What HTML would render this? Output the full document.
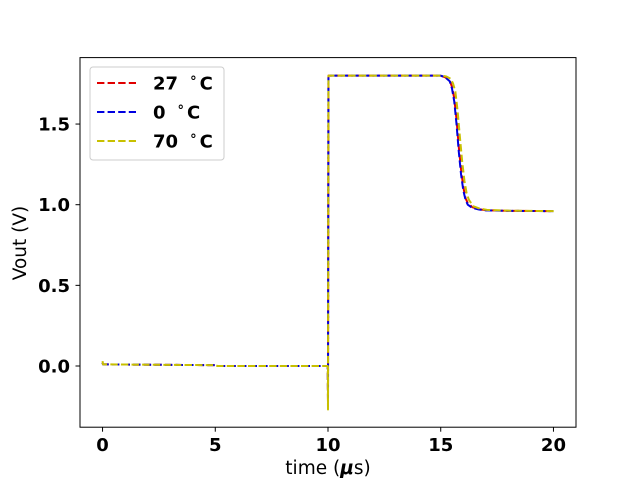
<!DOCTYPE html>
<html><head><meta charset="utf-8"><style>
body{margin:0;background:#fff}
svg text{font-family:"DejaVu Sans","Liberation Sans",sans-serif}
</style></head><body>
<svg id="chart" width="640" height="480" xmlns="http://www.w3.org/2000/svg">
<rect width="640" height="480" fill="#fff"/>
<g id="lines"></g>
<rect x="80" y="57.6" width="496" height="369.6" fill="none" stroke="#000" stroke-width="1"/>
<g id="ticks"></g>
<text x="328" y="474" font-size="18.5" text-anchor="middle">time (<tspan font-weight="bold" font-style="italic">μ</tspan>s)</text>
<text transform="translate(26,243) rotate(-90)" font-size="18.5" text-anchor="middle">Vout (V)</text>
<g>
<rect x="90" y="67" width="134" height="93" rx="3" fill="#fff" stroke="#ccc"/>
<g id="legend-items"></g>
</g>
</svg>
<script>
const tickX=[0,5,10,15,20];
const tickY=[0,0.5,1.0,1.5];
const tickYLabels=["0.0","0.5","1.0","1.5"];
const legendLabels=["27","0","70"];
const seriesColors=["#e00000","#0000e0","#c8c000"];
const tBase=[0,0.02,0.1,5,5.1,9.95,9.99,10.0,10.02,10.05,14.5,15.0,15.2,15.4,15.5,15.6,15.7,15.8,15.9,16.0,16.1,16.2,16.4,16.7,17,18,20];
const v27=[0.02,0.01,0.01,0.005,0.0,0.0,0.0,-0.25,1.8,1.8,1.8,1.8,1.79,1.77,1.73,1.66,1.53,1.36,1.22,1.11,1.04,1.01,0.985,0.972,0.966,0.962,0.96];
const v0=[0.02,0.01,0.01,0.005,0.0,0.0,0.0,-0.2,1.8,1.8,1.8,1.8,1.79,1.765,1.72,1.64,1.5,1.33,1.19,1.09,1.03,1.0,0.98,0.97,0.965,0.962,0.96];
const v70=[0.03,0.01,0.01,0.005,0.0,0.0,0.0,-0.27,1.8,1.8,1.8,1.8,1.795,1.78,1.75,1.7,1.58,1.42,1.27,1.15,1.07,1.03,0.99,0.975,0.968,0.963,0.96];
const tShift=[0,0,0.05];
const allSeries=[v27,v0,v70];
const X=t=>80+(t+1)/22*496;
const Y=v=>366-v*161.3;
const NS="http://www.w3.org/2000/svg";
const lines=document.getElementById('lines');
allSeries.forEach((vals,i)=>{
  const p=document.createElementNS(NS,'path');
  const d=vals.map((v,j)=>{let t=tBase[j];if(t>=14)t+=tShift[i];return (j?'L':'M')+X(t).toFixed(2)+','+Y(v).toFixed(2);}).join('');
  p.setAttribute('d',d);p.setAttribute('fill','none');p.setAttribute('stroke',seriesColors[i]);
  p.setAttribute('stroke-width','2');p.setAttribute('stroke-dasharray','7.4,3.2');p.setAttribute('stroke-linejoin','round');
  
  
  lines.appendChild(p);
});
const tk=document.getElementById('ticks');
tickX.forEach(t=>{
  const l=document.createElementNS(NS,'line');
  l.setAttribute('x1',X(t));l.setAttribute('x2',X(t));l.setAttribute('y1',427.2);l.setAttribute('y2',431.7);l.setAttribute('stroke','#000');
  
  
  tk.appendChild(l);
  const tx=document.createElementNS(NS,'text');
  tx.setAttribute('x',X(t));tx.setAttribute('y',451);tx.setAttribute('font-size','18');tx.setAttribute('font-weight','bold');tx.setAttribute('text-anchor','middle');
  tx.textContent=t;
  
  
  tk.appendChild(tx);
});
tickY.forEach((v,i)=>{
  const l=document.createElementNS(NS,'line');
  l.setAttribute('x1',75.5);l.setAttribute('x2',80);l.setAttribute('y1',Y(v));l.setAttribute('y2',Y(v));l.setAttribute('stroke','#000');
  
  
  tk.appendChild(l);
  const tx=document.createElementNS(NS,'text');
  tx.setAttribute('x',70);tx.setAttribute('y',Y(v)+6.5);tx.setAttribute('font-size','18');tx.setAttribute('font-weight','bold');tx.setAttribute('text-anchor','end');
  tx.textContent=tickYLabels[i];
  
  
  tk.appendChild(tx);
});
const lg=document.getElementById('legend-items');
legendLabels.forEach((s,i)=>{
  const y=83+i*29;
  const l=document.createElementNS(NS,'line');
  l.setAttribute('x1',97);l.setAttribute('x2',136);l.setAttribute('y1',y);l.setAttribute('y2',y);
  l.setAttribute('stroke',seriesColors[i]);l.setAttribute('stroke-width','2');l.setAttribute('stroke-dasharray','7.4,3.2');
  
  
  lg.appendChild(l);
  const tx=document.createElementNS(NS,'text');
  tx.setAttribute('x',153);tx.setAttribute('y',y+6.5);tx.setAttribute('font-size','18');tx.setAttribute('font-weight','bold');
  tx.textContent=s;
  const dg=document.createElementNS(NS,'tspan');
  dg.setAttribute('dy','-4');dg.setAttribute('dx','12');dg.setAttribute('font-size','13');
  dg.textContent='°';
  tx.appendChild(dg);
  const c=document.createElementNS(NS,'tspan');
  c.setAttribute('dy','4');c.setAttribute('dx','3');
  c.textContent='C';
  tx.appendChild(c);
  
  
  lg.appendChild(tx);
});
</script>
</body></html>
